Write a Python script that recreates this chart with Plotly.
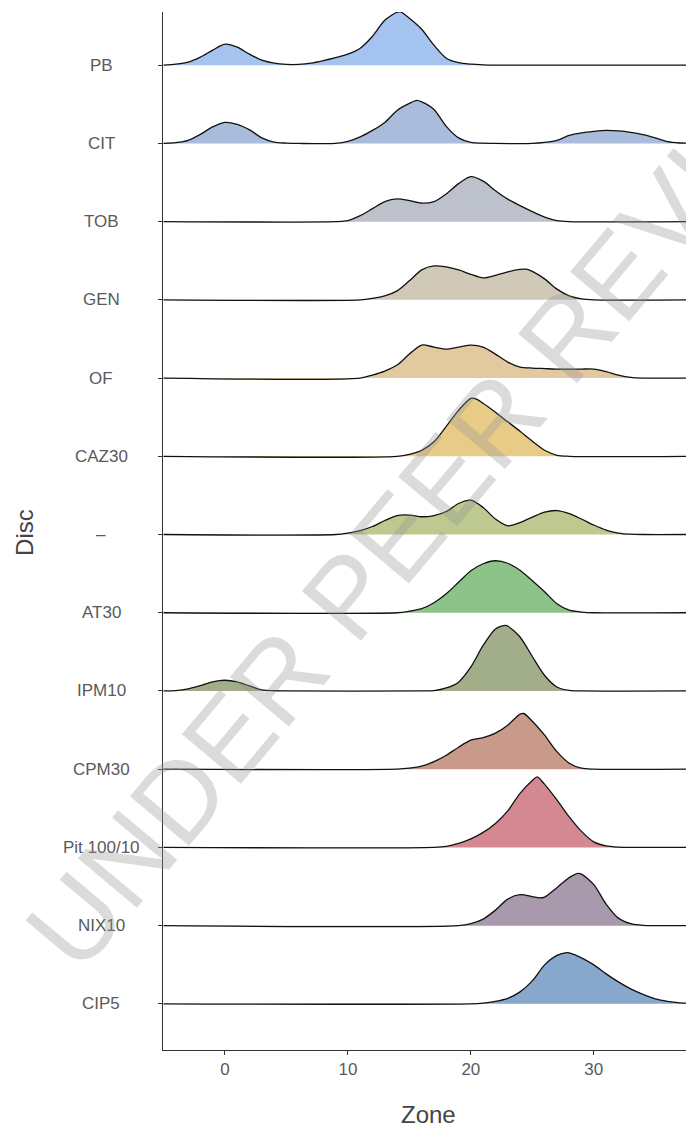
import plotly.graph_objects as go

# ---------------- data ----------------
categories = ["CIP5", "NIX10", "Pit 100/10", "CPM30", "IPM10", "AT30", "–",
              "CAZ30", "OF", "GEN", "TOB", "CIT", "PB"]

fill_colors = ["#88a7cc", "#a999ac", "#d48992", "#c99a8a", "#a2ae89", "#8dc389",
               "#bdc98e", "#e8cb87", "#e2c9a0", "#d0c9b8", "#bcc1cc", "#aabcdc", "#a4c3ee"]

x_ticks = [0, 10, 20, 30]

# relative density heights (Zone value -> density)
CIP5_x = [-5, 20, 21, 22, 23, 24, 25, 26, 27, 27.8, 28, 29, 30, 31, 32, 33, 34, 35, 36, 37, 37.5]
CIP5_h = [0, 0, 0.7, 2.5, 5.5, 12, 23, 39, 48.5, 51.3, 51, 46, 39, 30, 22, 15, 9.5, 5, 2.5, 1, 0.7]

NIX10_x = [-5, 19, 20, 21, 22, 23, 24, 25, 25.6, 26, 27, 28, 28.7, 29, 30, 31, 32, 33, 34, 35, 37.5]
NIX10_h = [0, 0, 2, 6.5, 15.5, 26.5, 31, 29, 27.7, 28.5, 38, 48, 52.3, 51.5, 41, 21.5, 7.5, 2, 0.3, 0, 0]

PIT_x = [-5, 17, 18, 19, 20, 21, 22, 23, 24, 25, 25.4, 26, 27, 28, 29, 30, 31, 32, 33, 37.5]
PIT_h = [0, 0, 1, 4, 8.5, 15, 24, 36.5, 54, 67, 70.5, 63, 47.5, 30.5, 16, 5.5, 1.5, 0.3, 0, 0]

CPM30_x = [-5, 14, 15, 16, 17, 18, 19, 20, 21, 22, 23, 24, 24.3, 25, 26, 27, 28, 29, 30, 37.5]
CPM30_h = [0, 0, 1, 3, 7.5, 14, 22, 29, 31.5, 36, 44, 55, 55.7, 48, 34, 17.5, 6, 1, 0, 0]

IPM10_x = [-5, -4, -3, -2, -1, 0, 1, 2, 3, 4, 5, 16, 17, 18, 19, 20, 21, 22, 22.8, 23, 24, 25, 26, 27, 28, 29, 37.5]
IPM10_h = [0, 0.3, 2, 5.3, 9.2, 10.7, 9, 5, 1, 0.2, 0, 0, 0.3, 3, 8.8, 24, 45.5, 62, 65.7, 65, 54, 34.5, 15.5, 4, 0.5, 0, 0]

AT30_x = [-5, 14, 15, 16, 17, 18, 19, 20, 21, 22, 23, 24, 25, 26, 27, 28, 29, 30, 37.5]
AT30_h = [0, 0, 1.5, 4, 10, 19, 30.5, 42, 49, 52, 49.5, 42.5, 32, 21, 9, 2.5, 0.7, 0, 0]

DASH_x = [-5, 9, 10, 11, 12, 13, 14, 15, 16, 17, 18, 19, 20, 21, 22, 23, 24, 25, 26, 27, 28, 29, 30, 31, 32, 33, 34, 37.5]
DASH_h = [0, 0, 1.5, 4, 8, 14, 19, 19.5, 17.8, 19, 23, 31, 34.3, 27, 15.5, 8.7, 12, 17.5, 22.5, 24, 21, 15.5, 9.5, 4.5, 1.5, 0.3, 0, 0]

CAZ30_x = [-5, 14, 15, 16, 17, 18, 19, 20, 20.5, 21, 22, 23, 24, 25, 26, 27, 28, 37.5]
CAZ30_h = [0, 0, 2, 6, 14.5, 30, 46, 58, 57, 53, 44, 34.5, 25, 15, 6, 1, 0, 0]

OF_x = [-5, 11, 12, 13, 14, 15, 16, 17, 18, 19, 20, 21, 22, 23, 24, 25, 26, 27, 28, 29, 30, 31, 32, 33, 34, 37.5]
OF_h = [0, 0, 3, 7, 13, 24, 33, 31, 29, 31, 33, 31, 24, 16, 11, 10, 9.5, 9, 9, 9, 9, 6.5, 3, 0.7, 0, 0]

GEN_x = [-5, 11, 12, 13, 14, 15, 16, 17, 18, 19, 20, 21, 22, 23, 24, 24.5, 25, 26, 27, 28, 29, 30, 37.5]
GEN_h = [0, 0, 1.5, 4, 9, 19, 30, 34, 33, 30, 25.5, 22, 24.5, 28, 30.5, 30.7, 28.5, 21, 10.7, 4, 1, 0, 0]

TOB_x = [-5, 9, 10, 11, 12, 13, 14, 15, 16, 17, 18, 19, 20, 21, 22, 23, 24, 25, 26, 27, 28, 37.5]
TOB_h = [0, 0, 1, 6, 13, 20, 22.7, 21, 18.5, 20, 27.7, 38, 45, 40.5, 31, 22.5, 16, 10, 4.5, 1, 0, 0]

CIT_x = [-5, -4, -3, -2, -1, 0, 1, 2, 3, 4, 5, 6, 9, 10, 11, 12, 13, 14, 15, 15.6, 16, 17, 18, 19, 20, 21, 22,
         25, 26, 27, 28, 29, 30, 31, 32, 33, 34, 35, 36, 37, 37.5]
CIT_h = [0, 0.7, 3, 9, 16.5, 21, 19, 13.5, 5.5, 1.2, 0.3, 0, 0, 2, 6.5, 13, 21, 33, 40, 43, 41.5, 34, 17, 5.5, 1, 0.3, 0,
         0, 1, 3, 8, 10.5, 12, 13, 12.5, 11, 8.7, 5.5, 1.8, 0.4, 0.2]

PB_x = [-5, -4, -3, -2, -1, 0, 1, 2, 3, 4, 5, 6, 7, 8, 9, 10, 11, 12, 13, 14, 14.3, 15, 16, 17, 18, 19, 20, 21, 22, 37.5]
PB_h = [0, 1, 3, 8, 15, 21, 18, 11, 5, 2, 0.8, 0.8, 2, 4.5, 7.5, 11, 17, 29, 45, 53, 53.3, 47, 36, 20, 7, 2.5, 1, 0.3, 0, 0]

series_x = [CIP5_x, NIX10_x, PIT_x, CPM30_x, IPM10_x, AT30_x, DASH_x, CAZ30_x, OF_x, GEN_x, TOB_x, CIT_x, PB_x]
series_h = [CIP5_h, NIX10_h, PIT_h, CPM30_h, IPM10_h, AT30_h, DASH_h, CAZ30_h, OF_h, GEN_h, TOB_h, CIT_h, PB_h]

# ---------------- style ----------------
X_MIN, X_MAX = -5.04, 37.5
RIDGE_SCALE = 1 / 78.25          # density units -> row units
FONT = "Liberation Sans, Arial, sans-serif"

fig = go.Figure()

# draw from the top row down so lower ridges sit on top
for i in reversed(range(len(categories))):
    base = i + 1
    xs = series_x[i]
    ys = [base + h * RIDGE_SCALE for h in series_h[i]]
    fig.add_trace(go.Scatter(x=[X_MIN, X_MAX], y=[base, base], mode="lines",
                             line=dict(width=0, color="rgba(0,0,0,0)"),
                             hoverinfo="skip", showlegend=False))
    fig.add_trace(go.Scatter(x=xs, y=ys, mode="lines", fill="tonexty",
                             fillcolor=fill_colors[i],
                             line=dict(color="#111111", width=1.3, shape="spline", smoothing=0.8),
                             name=categories[i], showlegend=False))

annotations = []
for i, cat in enumerate(categories):
    annotations.append(dict(x=-0.1185, xref="paper", y=i + 1, yref="y", text=cat,
                            showarrow=False, xanchor="center", yanchor="middle",
                            font=dict(size=17, color="#5a5a5a", family=FONT)))

annotations.append(dict(x=-0.266, xref="paper", y=0.499, yref="paper", text="Disc",
                        textangle=-90, showarrow=False, xanchor="center", yanchor="middle",
                        font=dict(size=24, color="#444444", family=FONT)))
annotations.append(dict(x=0.507, xref="paper", y=-0.0617, yref="paper", text="Zone",
                        showarrow=False, xanchor="center", yanchor="middle",
                        font=dict(size=24, color="#444444", family=FONT)))
annotations.append(dict(x=0.525, xref="paper", y=0.54, yref="paper", text="UNDER PEER REVIEW",
                        textangle=-50, showarrow=False, xanchor="center", yanchor="middle",
                        font=dict(size=112, color="rgba(150,150,150,0.34)", family=FONT)))

fig.update_layout(
    width=686, height=1130,
    margin=dict(l=163, r=0, t=12, b=80),
    paper_bgcolor="white", plot_bgcolor="white",
    font=dict(family=FONT),
    showlegend=False,
    annotations=annotations,
    xaxis=dict(range=[X_MIN, X_MAX], tickvals=x_ticks, ticks="outside", ticklen=4,
               tickcolor="#333333", tickwidth=1, showline=True, linecolor="#333333", linewidth=1,
               showgrid=False, zeroline=False,
               tickfont=dict(size=17, color="#5a5a5a", family=FONT)),
    yaxis=dict(range=[0.41, 13.68], tickvals=list(range(1, len(categories) + 1)),
               ticks="outside", ticklen=4, tickcolor="#333333", tickwidth=1,
               showticklabels=False, showline=True, linecolor="#333333", linewidth=1,
               showgrid=False, zeroline=False),
)

fig.write_html("out.html", config={"displayModeBar": False},
               post_script="document.body.style.margin='0';document.body.style.overflow='hidden';")
